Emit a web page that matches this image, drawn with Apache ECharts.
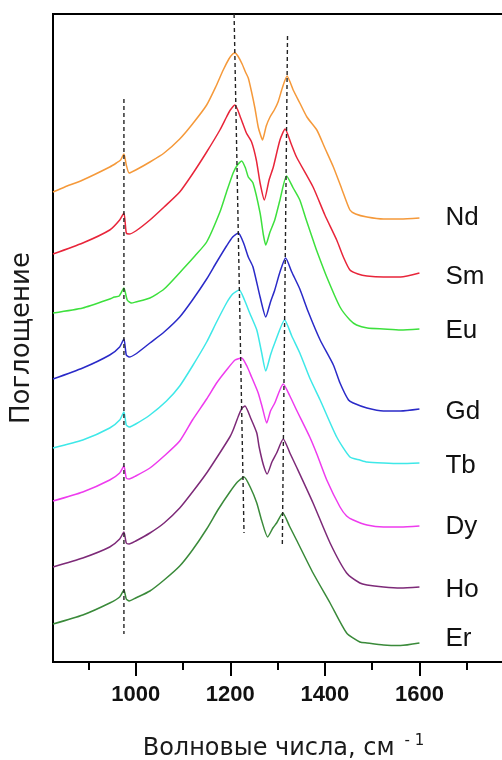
<!DOCTYPE html>
<html><head><meta charset="utf-8">
<script src="https://cdn.jsdelivr.net/npm/echarts/dist/echarts.min.js"></script>
<style>html,body{margin:0;padding:0;overflow:hidden;background:#fff}#c{width:520px;height:760px}</style>
</head><body><div id="c"></div><script>
// wavenumber (cm^-1) ticks
const majorTicks = [1000, 1200, 1400, 1600];
const minorTicks = [900, 1100, 1300, 1500, 1700];
const seriesNames = ['Nd', 'Sm', 'Eu', 'Gd', 'Tb', 'Dy', 'Ho', 'Er'];

// spectra: [wavenumber, absorbance (offset, arb. units)]
const ndSpectrum = [[825,47.0],[850,47.5],[888,48.2],[945,49.5],[959,49.9],[968,50.2],[975,50.8],[980,49.7],[986,48.9],[1000,49.2],[1030,50.0],[1060,50.9],[1093,52.3],[1120,53.8],[1150,55.7],[1170,57.6],[1185,59.2],[1197,60.3],[1205,60.8],[1210,60.9],[1216,60.6],[1225,59.8],[1232,59.0],[1238,58.4],[1245,57.0],[1252,55.4],[1259,53.5],[1264,52.7],[1268,52.2],[1276,53.6],[1284,54.5],[1293,55.2],[1301,56.0],[1310,57.4],[1320,58.6],[1333,57.2],[1347,55.9],[1362,54.5],[1383,53.2],[1400,51.4],[1418,49.5],[1435,47.4],[1453,45.2],[1465,44.8],[1489,44.5],[1524,44.3],[1560,44.3],[1600,44.4]];
const smSpectrum = [[825,40.8],[888,41.9],[945,43.2],[966,44.2],[975,44.9],[980,42.9],[986,42.8],[1000,43.1],[1030,44.2],[1060,45.5],[1093,47.0],[1120,48.8],[1150,51.0],[1178,53.2],[1192,54.5],[1200,55.2],[1210,55.7],[1222,54.4],[1234,52.9],[1245,52.0],[1255,50.2],[1263,47.9],[1272,46.2],[1282,48.2],[1291,49.5],[1305,52.2],[1316,53.3],[1328,51.9],[1340,50.5],[1375,47.5],[1400,44.7],[1425,42.2],[1440,40.4],[1453,39.2],[1470,38.8],[1489,38.6],[1524,38.5],[1560,38.5],[1600,38.9]];
const euSpectrum = [[825,34.9],[888,35.4],[945,36.3],[955,36.5],[965,36.6],[975,37.4],[982,36.2],[991,35.9],[1000,36.0],[1030,36.4],[1060,37.3],[1100,39.3],[1125,40.6],[1150,42.0],[1178,45.0],[1192,47.0],[1206,48.9],[1215,49.7],[1224,50.1],[1232,49.4],[1238,48.5],[1248,47.9],[1263,44.9],[1270,42.7],[1275,41.7],[1284,43.0],[1294,44.2],[1305,46.2],[1319,48.6],[1333,47.4],[1347,46.2],[1360,44.3],[1375,42.2],[1383,41.1],[1404,38.5],[1432,35.5],[1453,34.2],[1467,33.7],[1490,33.4],[1524,33.3],[1560,33.2],[1600,33.3]];
const gdSpectrum = [[825,28.3],[888,29.4],[945,30.7],[966,31.5],[975,32.3],[980,30.7],[986,30.5],[1000,30.8],[1030,31.9],[1060,33.0],[1093,34.5],[1120,36.2],[1150,38.3],[1170,39.9],[1192,41.6],[1205,42.5],[1217,42.9],[1228,41.9],[1238,40.5],[1248,39.5],[1263,36.5],[1275,34.5],[1285,36.0],[1294,37.2],[1305,39.0],[1317,40.4],[1330,39.0],[1347,37.3],[1365,35.0],[1390,32.2],[1418,29.7],[1432,27.9],[1450,26.2],[1460,25.9],[1489,25.4],[1524,25.1],[1560,25.1],[1600,25.3]];
const tbSpectrum = [[825,21.4],[888,22.2],[945,23.4],[966,24.2],[975,25.0],[980,23.7],[986,23.5],[1000,23.8],[1030,24.7],[1065,26.1],[1093,27.6],[1120,29.6],[1150,32.0],[1171,34.0],[1192,35.9],[1205,36.8],[1219,37.2],[1230,36.2],[1241,34.9],[1256,33.2],[1266,31.0],[1275,29.1],[1285,30.7],[1294,31.9],[1315,34.2],[1330,32.6],[1347,30.9],[1368,28.4],[1390,26.2],[1425,22.5],[1453,20.5],[1474,20.2],[1489,20.0],[1524,19.9],[1560,19.85],[1600,19.9]];
const dySpectrum = [[825,16.1],[888,17.0],[945,18.2],[966,18.9],[975,19.6],[980,18.4],[986,18.3],[1000,18.6],[1030,19.4],[1060,20.6],[1093,22.1],[1120,24.2],[1150,26.3],[1171,27.9],[1192,29.2],[1210,30.2],[1224,30.4],[1235,29.6],[1245,28.5],[1259,26.9],[1268,25.4],[1277,23.9],[1285,25.1],[1294,25.9],[1312,27.8],[1326,26.6],[1340,25.2],[1368,22.5],[1383,20.8],[1404,18.2],[1432,15.5],[1446,14.6],[1460,14.2],[1489,13.7],[1524,13.5],[1560,13.5],[1600,13.6]];
const hoSpectrum = [[825,9.5],[888,10.4],[945,11.5],[966,12.3],[975,13.0],[980,11.9],[986,11.8],[1000,12.1],[1030,12.9],[1060,13.9],[1093,15.4],[1120,17.0],[1150,18.9],[1175,20.7],[1199,22.5],[1206,23.2],[1218,24.7],[1225,25.4],[1231,25.6],[1243,24.4],[1256,22.9],[1261,21.5],[1270,19.7],[1278,18.8],[1288,20.0],[1298,20.9],[1312,22.3],[1326,20.9],[1340,19.5],[1375,15.9],[1411,11.9],[1446,8.9],[1474,7.9],[1489,7.7],[1524,7.5],[1560,7.4],[1600,7.5]];
const erSpectrum = [[825,3.8],[888,4.7],[945,5.9],[966,6.5],[975,7.2],[980,6.3],[986,6.1],[1000,6.4],[1030,7.1],[1060,8.2],[1093,9.6],[1120,11.2],[1150,13.3],[1175,15.3],[1199,17.0],[1215,18.0],[1229,18.5],[1243,17.4],[1256,15.9],[1266,14.2],[1279,12.5],[1290,13.4],[1298,13.9],[1311,14.9],[1325,13.6],[1340,12.2],[1375,8.9],[1411,5.9],[1446,2.9],[1474,2.0],[1489,1.9],[1524,1.7],[1560,1.65],[1600,1.9]];

// dashed guide lines through band maxima
const guide975 = [[975,56.3],[975,2.8]];
const guide1210 = [[1208,64.8],[1229,12.9]];
const guide1315 = [[1321,62.6],[1310,11.6]];

const spectra = [ndSpectrum, smSpectrum, euSpectrum, gdSpectrum, tbSpectrum, dySpectrum, hoSpectrum, erSpectrum];
const guides = [guide975, guide1210, guide1315];

const colors = ['#f5993a', '#e8253a', '#3de03d', '#2a2ac8', '#3ee8e8', '#ee3bee', '#7d2a78', '#3a8a3a'];
const labelOffsetY = [0, 4, 2, 3, 3, 1, 3, -4];

const chart = echarts.init(document.getElementById('c'), null, {renderer: 'canvas'});

const series = spectra.map((d, i) => ({
  name: seriesNames[i],
  type: 'line',
  data: d,
  xAxisIndex: 0,
  showSymbol: false,
  symbol: 'none',
  smooth: 0.2,
  lineStyle: {color: colors[i], width: 1.5},
  itemStyle: {color: colors[i]},
  endLabel: {
    show: true,
    formatter: '{a}',
    distance: 26,
    offset: [0, labelOffsetY[i]],
    color: '#111',
    fontFamily: 'Liberation Sans',
    fontSize: 26
  },
  z: 2
}));
guides.forEach(g => series.push({
  type: 'line', data: g, xAxisIndex: 0, showSymbol: false, symbol: 'none',
  lineStyle: {color: '#222', width: 1.4, type: [4, 3]}, z: 3, silent: true
}));

chart.setOption({
  animation: false,
  grid: {left: 53, right: 6, top: 14, bottom: 98, outerBoundsMode: 'none', containLabel: false, show: true, borderColor: '#000', borderWidth: 2, backgroundColor: 'transparent'},
  xAxis: [{
    type: 'value', position: 'bottom', min: 825, max: 1800,
    axisLine: {show: true, lineStyle: {color: '#000', width: 2}},
    axisTick: {show: true, customValues: majorTicks, length: 14, inside: false, lineStyle: {color: '#000', width: 2}},
    axisLabel: {show: true, customValues: majorTicks, margin: 22, color: '#111', fontFamily: 'Liberation Sans', fontWeight: 'bold', fontSize: 22, formatter: v => String(v)},
    splitLine: {show: false},
    name: '{t|Волновые числа, см}{s|- 1}',
    nameLocation: 'middle',
    nameGap: 72,
    nameTextStyle: {
      rich: {
        t: {fontFamily: 'DejaVu Sans', fontSize: 24, color: '#1a1a1a', lineHeight: 30},
        s: {fontFamily: 'DejaVu Sans', fontSize: 15, color: '#1a1a1a', lineHeight: 8, verticalAlign: 'top', padding: [0, 0, 0, 10]}
      }
    }
  }, {
    type: 'value', position: 'bottom', min: 825, max: 1800,
    axisLine: {show: false},
    axisTick: {show: true, customValues: minorTicks, length: 8, inside: false, lineStyle: {color: '#000', width: 2}},
    axisLabel: {show: false},
    splitLine: {show: false}
  }],
  yAxis: {
    type: 'value', min: 0, max: 64.8,
    axisLine: {show: true, lineStyle: {color: '#000', width: 2}},
    axisTick: {show: false},
    axisLabel: {show: false},
    splitLine: {show: false},
    name: 'Поглощение',
    nameLocation: 'middle',
    nameRotate: 90,
    nameGap: 18,
    nameTextStyle: {fontFamily: 'DejaVu Sans', fontSize: 26, color: '#1a1a1a'}
  },
  series: series
});
</script></body></html>
